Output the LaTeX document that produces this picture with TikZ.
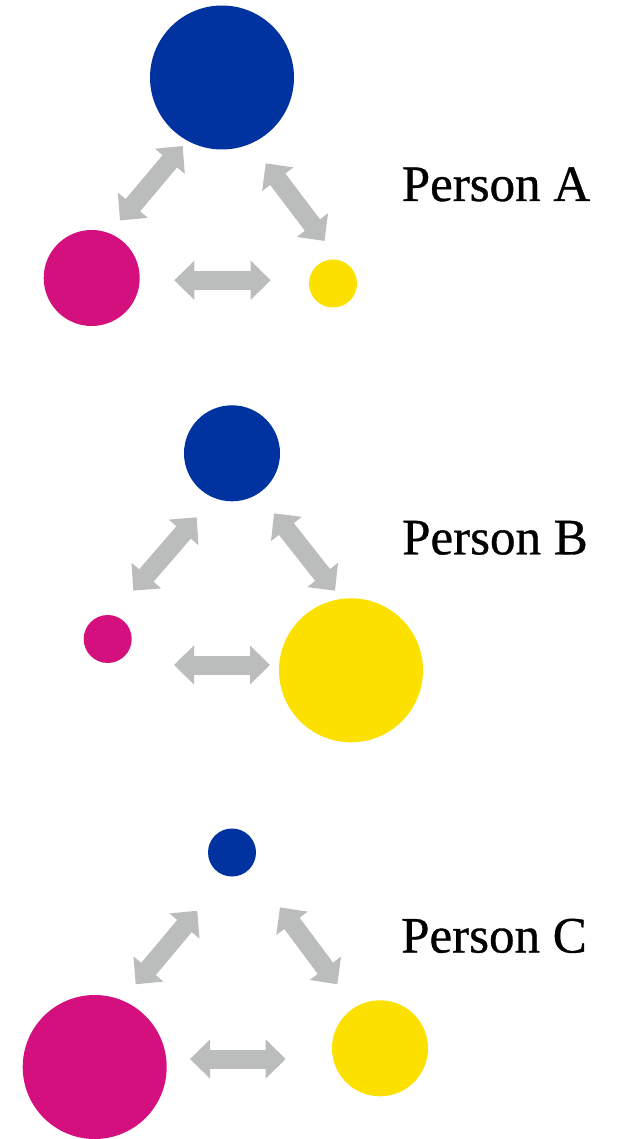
\documentclass[tikz,border=0pt]{standalone}
\usepackage{fontspec}
\setmainfont{Liberation Serif}
\newfontfamily\lblfont[FakeBold=0.7]{Liberation Serif}
\usetikzlibrary{arrows.meta}
\definecolor{cblue}{RGB}{0,51,160}
\definecolor{cmag}{RGB}{212,16,127}
\definecolor{cyel}{RGB}{252,224,0}
\definecolor{cgray}{RGB}{187,189,188}
\tikzset{
  dot/.style={circle,fill=#1,draw=none,inner sep=0pt},
  big/.style={minimum size=144pt},
  mid/.style={minimum size=96pt},
  small/.style={minimum size=48pt},
  dblarrow/.style={draw=cgray,line width=19pt,
    {Triangle[width=38pt,length=20pt,fill=cgray]}-{Triangle[width=38pt,length=20pt,fill=cgray]}},
  label/.style={anchor=base,inner sep=0pt,font=\lblfont\fontsize{51}{60}\selectfont}
}
\begin{document}
\begin{tikzpicture}[x=1pt,y=-1pt]
\useasboundingbox (0,0) rectangle (620,1139);
% Person A
\node[dot=cblue,big] (Ab) at (222,77.5) {};
\node[dot=cmag,mid] (Am) at (91.7,278) {};
\node[dot=cyel,small] (Ay) at (333,283.5) {};
\coordinate (AL1) at (120,220.5); \coordinate (AL2) at (182.7,146);
\coordinate (AR1) at (265.7,163.3); \coordinate (AR2) at (324.5,241);
\coordinate (AH1) at (174.3,280.3); \coordinate (AH2) at (270.7,280.3);
\draw[dblarrow] (AL1) -- (AL2);
\draw[dblarrow] (AR1) -- (AR2);
\draw[dblarrow] (AH1) -- (AH2);
\node[label] (At) at (496,201) {Person A};
% Person B
\node[dot=cblue,mid] (Bb) at (232,453.3) {};
\node[dot=cmag,small] (Bm) at (107.7,639) {};
\node[dot=cyel,big] (By) at (351,670.3) {};
\coordinate (BL1) at (133.3,590.7); \coordinate (BL2) at (196.7,517.3);
\coordinate (BR1) at (274,513.3); \coordinate (BR2) at (335,590.7);
\coordinate (BH1) at (174,665); \coordinate (BH2) at (270,665);
\draw[dblarrow] (BL1) -- (BL2);
\draw[dblarrow] (BR1) -- (BR2);
\draw[dblarrow] (BH1) -- (BH2);
\node[label] (Bt) at (495,554.3) {Person B};
% Person C
\node[dot=cblue,small] (Cb) at (232,852.5) {};
\node[dot=cmag,big] (Cm) at (94.7,1067) {};
\node[dot=cyel,mid] (Cy) at (380,1048.3) {};
\coordinate (CL1) at (135.7,984.3); \coordinate (CL2) at (197.3,910.7);
\coordinate (CR1) at (280,907.3); \coordinate (CR2) at (337.3,984.3);
\coordinate (CH1) at (190,1059); \coordinate (CH2) at (285.7,1059);
\draw[dblarrow] (CL1) -- (CL2);
\draw[dblarrow] (CR1) -- (CR2);
\draw[dblarrow] (CH1) -- (CH2);
\node[label] (Ct) at (494,952.5) {Person C};
\end{tikzpicture}
\end{document}
